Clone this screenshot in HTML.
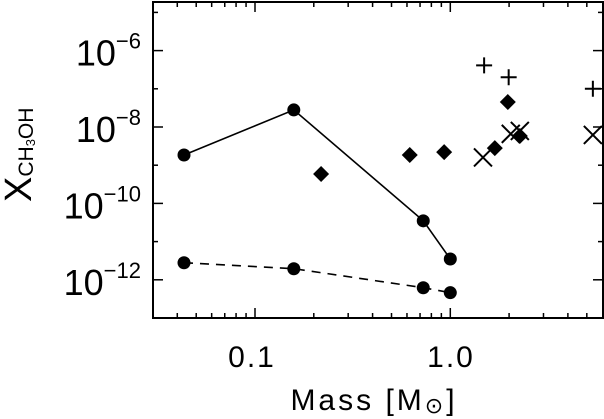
<!DOCTYPE html>
<html><head><meta charset="utf-8">
<style>
html,body{margin:0;padding:0;background:#fff;}
svg{display:block;font-family:"Liberation Sans","DejaVu Sans",sans-serif;}
</style></head>
<body>
<svg id="chart" width="604" height="419" viewBox="0 0 604 419" xmlns="http://www.w3.org/2000/svg">
<g id="frame-g"></g>
<g id="marks"></g>
<text x="252" y="367" font-size="30" letter-spacing="2" text-anchor="middle" fill="#000">0.1</text>
<text x="451" y="367" font-size="30" letter-spacing="2" text-anchor="middle" fill="#000">1.0</text>
<text x="374" y="410" font-size="30" letter-spacing="3" text-anchor="middle" fill="#000">Mass [M<tspan font-size="22" dy="3">⊙</tspan><tspan dy="-3">]</tspan></text>
<text transform="translate(31,202) rotate(-90)" font-size="38" fill="#000">X<tspan font-size="21" dy="2">CH<tspan font-size="13" dy="2">3</tspan><tspan dy="-2">OH</tspan></tspan></text>
</svg>
<script>
const xCircleSolid = [0.0433, 0.158, 0.727, 1.0];
const yCircleSolid = [1.85e-9, 2.8e-8, 3.5e-11, 3.5e-12];
const xCircleDashed = [0.0433, 0.158, 0.727, 1.0];
const yCircleDashed = [2.8e-12, 1.95e-12, 6.2e-13, 4.6e-13];
const xDiamond = [0.218, 0.62, 0.93, 1.69, 1.97, 2.27];
const yDiamond = [5.9e-10, 1.85e-9, 2.2e-9, 2.8e-9, 4.5e-8, 5.8e-9];
const xPlus = [1.49, 1.99, 5.37];
const yPlus = [4.1e-7, 2.0e-7, 1.0e-7];
const xCross = [1.47, 2.04, 2.27, 5.37];
const yCross = [1.6e-9, 6.6e-9, 7.9e-9, 6.2e-9];
const yTickExps = [-12, -10, -8, -6];

const NS = "http://www.w3.org/2000/svg";
const L = 153, R = 603, T = 2, B = 318;
function xs(v){ return 450.3 + Math.log10(v) * 195.3; }
function ys(v){ return 127 - (Math.log10(v) + 8) * 38.2; }
function mk(tag, attrs, parent){
  const e = document.createElementNS(NS, tag);
  for (const k in attrs) e.setAttribute(k, attrs[k]);
  parent.appendChild(e);
  return e;
}
const fg = document.getElementById('frame-g');
const frame = mk('rect', {x:L, y:T, width:R-L, height:B-T, fill:'none', stroke:'#000', 'stroke-width':2}, fg);



for (let d = -2; d <= 0; d++) {
  for (let m = 1; m <= 9; m++) {
    const v = m * Math.pow(10, d);
    const x = xs(v);
    if (x < L + 1 || x > R - 1) continue;
    const len = (m === 1) ? 10 : 5;
    const t1 = mk('line', {x1:x, y1:B, x2:x, y2:B-len, stroke:'#000', 'stroke-width':1.5}, fg);
    
    
    const t2 = mk('line', {x1:x, y1:T, x2:x, y2:T+len, stroke:'#000', 'stroke-width':1.5}, fg);
    
    
  }
}
for (let e = -13; e <= -4; e++) {
  const y = ys(Math.pow(10, e));
  if (y < T + 1 || y > B - 1) continue;
  const len = (e % 2 === 0) ? 10 : 5;
  const t1 = mk('line', {x1:L, y1:y, x2:L+len, y2:y, stroke:'#000', 'stroke-width':1.5}, fg);
  
  
  const t2 = mk('line', {x1:R, y1:y, x2:R-len, y2:y, stroke:'#000', 'stroke-width':1.5}, fg);
  
  
}
const svg = document.getElementById('chart');
yTickExps.forEach(e => {
  const y = ys(Math.pow(10, e));
  const t = mk('text', {x:141, y:y+15, 'font-size':36, 'text-anchor':'end', fill:'#000'}, svg);
  
  
  const a = mk('tspan', {}, t); a.textContent = '10';
  const b = mk('tspan', {'font-size':22, dy:-17}, t); b.textContent = '\u2212' + Math.abs(e);
});

const g = document.getElementById('marks');
function polyline(xa, ya, dash, name){
  const pts = xa.map((v,i)=> xs(v).toFixed(1)+','+ys(ya[i]).toFixed(1)).join(' ');
  const p = mk('polyline', {points:pts, fill:'none', stroke:'#000', 'stroke-width':1.6}, g);
  if (dash) p.setAttribute('stroke-dasharray', '9,7');
  
  
}
polyline(xCircleSolid, yCircleSolid, false, 'solid-model-line');
polyline(xCircleDashed, yCircleDashed, true, 'dashed-model-line');
xCircleSolid.forEach((v,i)=>{
  const c = mk('circle', {cx:xs(v), cy:ys(yCircleSolid[i]), r:6.5, fill:'#000'}, g);
  
  
});
xCircleDashed.forEach((v,i)=>{
  const c = mk('circle', {cx:xs(v), cy:ys(yCircleDashed[i]), r:6.5, fill:'#000'}, g);
  
  
});
xDiamond.forEach((v,i)=>{
  const x = xs(v), y = ys(yDiamond[i]), s = 8;
  const p = mk('polygon', {points:`${x},${y-s} ${x+s},${y} ${x},${y+s} ${x-s},${y}`, fill:'#000'}, g);
  
  
});
xPlus.forEach((v,i)=>{
  const x = xs(v), y = ys(yPlus[i]), s = 8;
  const p = mk('path', {d:`M${x-s},${y}H${x+s}M${x},${y-s}V${y+s}`, stroke:'#000', 'stroke-width':2, fill:'none'}, g);
  
  
});
xCross.forEach((v,i)=>{
  const x = xs(v), y = ys(yCross[i]), s = 9;
  const p = mk('path', {d:`M${x-s},${y-s}L${x+s},${y+s}M${x-s},${y+s}L${x+s},${y-s}`, stroke:'#000', 'stroke-width':2, fill:'none'}, g);
  
  
});
</script>
</body></html>
